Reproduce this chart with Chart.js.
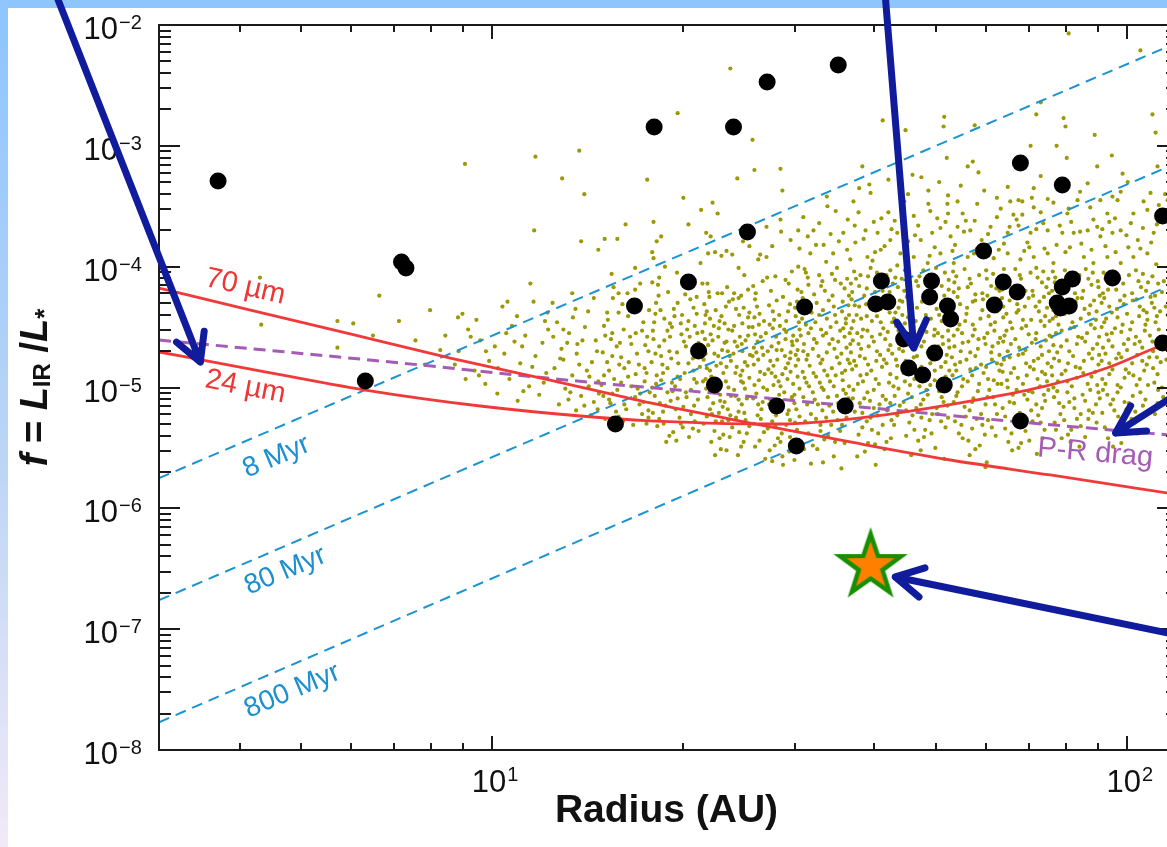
<!DOCTYPE html>
<html>
<head>
<meta charset="utf-8">
<script src="https://cdn.jsdelivr.net/npm/chart.js@4.4.1/dist/chart.umd.min.js"></script>
<style>
  html, body { margin: 0; padding: 0; background: #fff; overflow: hidden; }
  #topbar { position: absolute; left: 0; top: 0; width: 1167px; height: 8px; background: #8dc5fd; }
  #leftbar { position: absolute; left: 0; top: 0; width: 8px; height: 847px;
    background: linear-gradient(to bottom, #8dc5fd 0%, #b7d4f6 50%, #f1e9f7 100%); }
  #wrap { position: absolute; left: 0; top: 0; width: 1190px; height: 847px; }
</style>
</head>
<body>
<div id="topbar"></div>
<div id="leftbar"></div>
<div id="wrap"><canvas id="grafico" width="1190" height="847"></canvas></div>
<script>
// todos los valores en log10: [log10(R en AU), log10(f)]

// modelos de disco (puntitos oliva)
const modeloPts = [
  [0.634,-4.09],[0.822,-4.24],[0.756,-4.45],[0.781,-4.47],[0.636,-4.48],[0.812,-4.57],[0.756,-4.67],[0.853,-4.45],[0.879,-4.61],[0.902,-4.36],[0.918,-4.69],[0.894,-4.81],[0.926,-4.57],
  [1.375,-2.36],[1.292,-2.73],[1.410,-2.95],[0.957,-3.15],[1.068,-3.09],[1.137,-3.04],[1.110,-3.27],[1.145,-3.40],[1.244,-3.28],[1.386,-3.27],[1.413,-3.20],[1.454,-3.19],[1.457,-3.37],[1.301,-3.43],[1.347,-3.47],[1.355,-3.56],[1.329,-3.53],[1.210,-3.65],[1.254,-3.63],[1.309,-3.65],[1.066,-3.70],[1.140,-3.79],[1.177,-3.77],[1.197,-3.77],[1.167,-3.86],[1.266,-3.75],[1.337,-3.72],[1.344,-3.75],[1.482,-3.70],[1.454,-3.61],[1.455,-3.71],[1.441,-3.83],[1.405,-3.83],[1.369,-3.87],[1.361,-3.91],[1.340,-3.89],[1.351,-3.88],[1.378,-3.90],[1.252,-3.88],[1.254,-3.93],[1.188,-4.06],[1.225,-4.01],[1.233,-4.14],[1.252,-4.13],[1.263,-4.09],[1.060,-4.14],[1.126,-4.22],[1.388,-4.01],[1.419,-3.94],[1.422,-3.90],[1.432,-3.92],[1.446,-4.08],[1.433,-4.09],[1.411,-4.16],[1.403,-4.19],[1.462,-4.11],[1.467,-4.14],[1.481,-4.19],[1.484,-3.85],[1.482,-4.00],[1.328,-3.97],[1.304,-4.15],[1.331,-4.14],[1.339,-4.14],[1.355,-4.22],[1.362,-4.22],[1.381,-4.22],[1.388,-4.26],[1.370,-4.17],[1.277,-4.21],[1.304,-4.23],[1.191,-4.17],[1.225,-4.19],[1.213,-4.22],[1.199,-4.22],[1.426,-4.12],
  [1.016,-4.33],[1.024,-4.29],[1.065,-4.29],[1.095,-4.30],[1.087,-4.38],[0.953,-4.39],[0.946,-4.42],[1.151,-4.37],[1.181,-4.38],[1.199,-4.38],
  [1.908,-2.07],[2.021,-2.21],[1.864,-2.64],[1.857,-2.74],[2.040,-2.74],[1.900,-2.77],[1.903,-2.84],[1.712,-2.76],[1.711,-2.84],[1.760,-2.83],[1.615,-2.79],[1.651,-2.87],[2.045,-2.89],[1.949,-2.91],[1.848,-3.00],[1.889,-3.00],[1.716,-3.10],[1.749,-3.17],[1.757,-3.13],[1.766,-3.22],[1.905,-3.10],[1.976,-3.08],[1.993,-3.23],[1.953,-3.17],[1.583,-3.17],[1.594,-3.32],[1.624,-3.28],[1.662,-3.24],[1.676,-3.26],[1.704,-3.30],[1.687,-3.37],[1.775,-3.37],[1.812,-3.34],[1.829,-3.45],[1.853,-3.35],[1.875,-3.44],[1.938,-3.31],[1.958,-3.45],[1.977,-3.42],[2.037,-3.39],[2.026,-3.46],[2.048,-3.17],
  [1.490,-3.59],[1.506,-3.70],[1.528,-3.50],[1.541,-3.54],[1.569,-3.46],[1.577,-3.55],[1.596,-3.39],[1.624,-3.55],[1.638,-3.72],[1.648,-3.67],[1.664,-3.58],[1.687,-3.48],[1.717,-3.48],[1.733,-3.46],[1.701,-3.60],[1.714,-3.63],[1.741,-3.56],[1.764,-3.48],[1.801,-3.52],[1.816,-3.46],[1.821,-3.57],[1.835,-3.46],[1.853,-3.51],[1.864,-3.55],[1.884,-3.47],[1.906,-3.56],[1.922,-3.45],[1.942,-3.51],[1.947,-3.61],[1.969,-3.56],[1.985,-3.45],[2.010,-3.56],[2.032,-3.53],[2.006,-3.64],[1.990,-3.70],[1.977,-3.72],[1.958,-3.75],[1.938,-3.70],[1.916,-3.72],[1.898,-3.72],[1.875,-3.70],[1.848,-3.72],[1.829,-3.66],[1.812,-3.72],[1.785,-3.67],[1.753,-3.70],[1.733,-3.67],[1.722,-3.75],[1.693,-3.72],[1.675,-3.78],[1.627,-3.78],[1.607,-3.72],[1.588,-3.70],[1.553,-3.72],[1.522,-3.82],[1.501,-3.89],[1.537,-3.89],[1.564,-3.94],[1.591,-3.92],[1.612,-3.86],[1.643,-3.89],[1.664,-3.92],[1.686,-3.97],[1.706,-3.89],[1.727,-3.97],[1.749,-3.92],[1.790,-3.93],[1.812,-3.89],[1.832,-3.94],[1.853,-3.92],[1.875,-3.89],[1.884,-3.97],[1.932,-3.92],[1.947,-3.97],[1.969,-3.92],[1.990,-3.97],[2.010,-3.92],[2.032,-3.89],[2.042,-3.72],[2.017,-3.78],
  [1.497,-3.75],[1.515,-3.64],[1.546,-3.79],[1.560,-3.61],[1.572,-3.80],[1.601,-3.63],[1.618,-3.83],[1.634,-3.62],[1.655,-3.79],[1.671,-3.66],[1.697,-3.84],[1.718,-3.56],[1.729,-3.82],[1.746,-3.62],[1.771,-3.78],[1.795,-3.59],[1.806,-3.81],[1.826,-3.61],[1.846,-3.84],[1.868,-3.64],[1.889,-3.82],[1.912,-3.63],[1.928,-3.81],[1.953,-3.67],[1.966,-3.83],[1.981,-3.60],[2.002,-3.84],[2.025,-3.68],[2.038,-3.80],[2.060,-3.61],[2.072,-3.88],[1.527,-3.42],[1.578,-3.35],[1.655,-3.40],[1.738,-3.33],[1.795,-3.43],[1.864,-3.25],[1.926,-3.38],[2.001,-3.30],[2.064,-3.45],
  [1.510,-3.82],[1.533,-3.73],[1.559,-3.86],[1.585,-3.77],[1.603,-3.88],[1.629,-3.69],[1.650,-3.85],[1.666,-3.74],[1.689,-3.91],[1.706,-3.68],[1.725,-3.87],[1.743,-3.71],[1.759,-3.89],[1.781,-3.73],[1.798,-3.86],[1.815,-3.67],[1.838,-3.87],[1.857,-3.69],[1.870,-3.85],[1.894,-3.66],[1.903,-3.88],[1.926,-3.71],[1.944,-3.86],[1.961,-3.69],[1.982,-3.88],[1.999,-3.74],[2.021,-3.85],[2.047,-3.65],[2.067,-3.77],[2.081,-3.94],[1.613,-3.60],[1.690,-3.54],[1.760,-3.62],[1.835,-3.57],[1.908,-3.52],[1.972,-3.63],[2.050,-3.49],[1.571,-3.66],[1.649,-3.46],[1.718,-3.41],[1.850,-3.43],[1.990,-3.38],[1.470,-3.78],[1.432,-3.67],[1.395,-3.79],
  [0.962,-4.52],[0.981,-4.61],[0.947,-4.70],[0.995,-4.78],[1.004,-4.66],[0.972,-4.86],[0.958,-4.93],[0.989,-4.97],[1.008,-5.05],[0.941,-4.81],[0.975,-4.44],
  [1.031,-4.49],[1.052,-4.57],[1.079,-4.63],[1.019,-4.72],[1.044,-4.80],[1.068,-4.74],[1.085,-4.88],[1.027,-4.93],[1.058,-4.99],[1.074,-5.06],[1.040,-5.11],[1.088,-4.52],[1.035,-4.62],
  [0.966,-4.58],[0.990,-4.70],[1.009,-4.84],[0.979,-4.90],[1.022,-4.55],[1.047,-4.66],[1.063,-4.83],[1.081,-4.96],[1.049,-5.03],[1.112,-4.52],[1.134,-4.64],[1.107,-4.76],[1.153,-4.91],[1.123,-5.04],[1.166,-5.18],[1.189,-4.55],[1.217,-4.58],[1.241,-4.65],[1.200,-4.81],[1.226,-4.89],[1.189,-5.05],[1.238,-5.12],[1.206,-5.28],[1.083,-4.45],[1.039,-4.41],
  [1.102,-4.46],[1.121,-4.55],[1.146,-4.50],[1.163,-4.61],[1.109,-4.68],[1.133,-4.72],[1.157,-4.79],[1.098,-4.84],[1.126,-4.90],[1.149,-4.86],[1.167,-4.95],[1.115,-5.01],[1.140,-5.07],[1.160,-5.12],[1.105,-5.14],[1.132,-5.19],[1.155,-5.23],[1.127,-4.42],[1.160,-4.26],
  [1.096,-4.58],[1.118,-4.63],[1.142,-4.61],[1.165,-4.70],[1.112,-4.77],[1.137,-4.81],[1.104,-4.95],[1.152,-4.99],[1.120,-5.10],[1.145,-5.15],[1.168,-5.05],[1.131,-4.35],
  [1.176,-4.49],[1.207,-4.52],[1.238,-4.46],[1.187,-4.60],[1.219,-4.64],[1.244,-4.58],[1.174,-4.71],[1.203,-4.75],[1.231,-4.81],[1.246,-4.70],[1.184,-4.86],[1.214,-4.91],[1.240,-4.95],[1.172,-4.98],[1.197,-5.02],[1.225,-5.08],[1.248,-5.04],[1.186,-5.13],[1.211,-5.18],[1.236,-5.22],[1.178,-5.26],[1.243,-5.30],[1.205,-4.31],[1.229,-4.28],[1.247,-4.36],
  [1.182,-4.44],[1.214,-4.41],[1.236,-4.53],[1.196,-4.66],[1.228,-4.72],[1.181,-4.79],[1.208,-4.84],[1.243,-4.88],[1.192,-4.93],[1.219,-4.99],[1.175,-5.07],[1.232,-5.14],[1.199,-5.24],[1.222,-5.31],[1.246,-5.19],[1.190,-4.26],
  [1.178,-4.57],[1.201,-4.63],[1.226,-4.55],[1.189,-4.74],[1.215,-4.79],[1.240,-4.84],[1.176,-4.90],[1.203,-4.96],[1.229,-5.01],[1.184,-5.10],[1.208,-5.14],[1.233,-5.05],[1.195,-5.20],[1.246,-5.25],
  [1.258,-4.30],[1.286,-4.35],[1.312,-4.27],[1.271,-4.43],[1.297,-4.47],[1.322,-4.39],[1.253,-4.53],[1.280,-4.58],[1.307,-4.52],[1.325,-4.63],[1.263,-4.66],[1.291,-4.71],[1.316,-4.76],[1.251,-4.79],[1.276,-4.84],[1.303,-4.88],[1.327,-4.83],[1.266,-4.94],[1.288,-4.99],[1.313,-5.02],[1.256,-5.07],[1.281,-5.11],[1.301,-5.16],[1.324,-5.10],[1.269,-5.20],[1.295,-5.25],[1.319,-5.28],[1.260,-5.32],[1.285,-5.37],[1.310,-5.41],[1.274,-5.45],[1.299,-4.40],[1.319,-4.49],[1.272,-4.00],[1.291,-4.05],[1.259,-3.79],
  [1.265,-4.36],[1.292,-4.30],[1.317,-4.34],[1.255,-4.46],[1.283,-4.50],[1.309,-4.45],[1.271,-4.61],[1.298,-4.56],[1.320,-4.69],[1.257,-4.72],[1.282,-4.76],[1.309,-4.80],[1.269,-4.88],[1.296,-4.93],[1.322,-4.96],[1.252,-5.00],[1.276,-5.04],[1.306,-5.08],[1.289,-5.18],[1.313,-5.22],[1.263,-5.26],[1.300,-5.33],[1.279,-5.40],[1.325,-5.36],[1.261,-4.15],[1.315,-4.12],
  [1.262,-4.24],[1.287,-4.41],[1.311,-4.58],[1.254,-4.60],[1.279,-4.70],[1.305,-4.66],[1.326,-4.73],[1.268,-4.81],[1.292,-4.91],[1.317,-4.86],[1.258,-4.97],[1.284,-5.03],[1.318,-5.15],[1.273,-5.15],[1.297,-5.30],[1.253,-5.21],[1.322,-4.25],[1.280,-4.47],
  [1.257,-4.39],[1.276,-4.53],[1.302,-4.62],[1.323,-4.55],[1.266,-4.74],[1.293,-4.80],[1.318,-4.93],[1.259,-4.90],[1.283,-4.96],[1.305,-5.04],[1.264,-5.13],[1.292,-5.09],[1.316,-5.34],[1.270,-5.30],[1.290,-5.44],
  [1.334,-4.31],[1.352,-4.36],[1.373,-4.29],[1.396,-4.34],[1.343,-4.43],[1.366,-4.47],[1.389,-4.40],[1.404,-4.50],[1.331,-4.54],[1.356,-4.58],[1.378,-4.53],[1.399,-4.61],[1.340,-4.65],[1.362,-4.69],[1.386,-4.66],[1.406,-4.73],[1.333,-4.77],[1.353,-4.82],[1.376,-4.78],[1.394,-4.86],[1.345,-4.91],[1.368,-4.95],[1.391,-4.90],[1.337,-5.01],[1.359,-5.06],[1.381,-5.02],[1.401,-5.09],[1.348,-5.13],[1.371,-5.18],[1.393,-5.14],[1.338,-5.24],[1.362,-5.28],[1.384,-5.25],[1.405,-5.32],[1.350,-5.36],[1.374,-5.41],[1.396,-5.45],[1.360,-5.51],[1.387,-5.56],[1.342,-4.25],[1.397,-4.07],
  [1.338,-4.37],[1.361,-4.41],[1.384,-4.35],[1.403,-4.42],[1.349,-4.49],[1.372,-4.52],[1.394,-4.47],[1.335,-4.60],[1.366,-4.63],[1.390,-4.58],[1.350,-4.72],[1.374,-4.74],[1.398,-4.79],[1.338,-4.84],[1.364,-4.88],[1.385,-4.83],[1.405,-4.92],[1.332,-4.95],[1.355,-4.99],[1.376,-5.07],[1.398,-5.01],[1.343,-5.18],[1.366,-5.12],[1.388,-5.20],[1.333,-5.30],[1.357,-5.21],[1.378,-5.33],[1.401,-5.38],[1.345,-5.45],[1.369,-5.52],[1.392,-5.49],[1.379,-4.27],
  [1.341,-4.21],[1.368,-4.33],[1.392,-4.24],[1.335,-4.47],[1.357,-4.51],[1.382,-4.62],[1.403,-4.57],[1.347,-4.61],[1.371,-4.70],[1.394,-4.70],[1.336,-4.72],[1.360,-4.80],[1.383,-4.88],[1.402,-4.82],[1.349,-4.97],[1.372,-5.00],[1.395,-4.96],[1.339,-5.08],[1.363,-5.16],[1.388,-5.10],[1.352,-5.28],[1.375,-5.23],[1.399,-5.27],[1.364,-5.39],[1.389,-5.37],[1.351,-5.56],
  [1.336,-4.40],[1.358,-4.45],[1.381,-4.49],[1.405,-4.38],[1.344,-4.56],[1.369,-4.62],[1.393,-4.64],[1.331,-4.68],[1.356,-4.74],[1.380,-4.72],[1.343,-4.86],[1.369,-4.83],[1.392,-4.95],[1.336,-4.93],[1.359,-5.11],[1.383,-5.07],[1.346,-5.22],[1.372,-5.27],[1.397,-5.21],[1.358,-5.42],
  [1.414,-4.27],[1.436,-4.32],[1.458,-4.25],[1.477,-4.34],[1.421,-4.39],[1.444,-4.44],[1.466,-4.37],[1.483,-4.46],[1.410,-4.50],[1.431,-4.55],[1.453,-4.49],[1.474,-4.57],[1.418,-4.62],[1.440,-4.66],[1.462,-4.60],[1.481,-4.69],[1.427,-4.73],[1.449,-4.77],[1.470,-4.71],[1.412,-4.81],[1.435,-4.85],[1.457,-4.89],[1.478,-4.82],[1.420,-4.94],[1.443,-4.98],[1.465,-4.93],[1.484,-5.01],[1.416,-5.05],[1.438,-5.10],[1.460,-5.04],[1.476,-5.13],[1.424,-5.18],[1.447,-5.23],[1.469,-5.27],[1.412,-5.30],[1.434,-5.34],[1.456,-5.38],[1.480,-5.35],[1.421,-5.44],[1.445,-5.48],[1.468,-5.53],[1.430,-5.59],[1.458,-5.64],[1.439,-4.20],[1.472,-4.04],
  [1.417,-4.33],[1.448,-4.28],[1.469,-4.31],[1.428,-4.45],[1.452,-4.40],[1.478,-4.41],[1.414,-4.56],[1.442,-4.51],[1.463,-4.54],[1.484,-4.52],[1.425,-4.67],[1.451,-4.63],[1.473,-4.65],[1.410,-4.74],[1.438,-4.78],[1.461,-4.74],[1.482,-4.77],[1.422,-4.87],[1.446,-4.91],[1.470,-4.87],[1.413,-4.98],[1.433,-5.02],[1.454,-4.99],[1.476,-5.06],[1.426,-5.12],[1.449,-5.16],[1.467,-5.19],[1.418,-5.23],[1.441,-5.28],[1.463,-5.31],[1.484,-5.24],[1.428,-5.37],[1.450,-5.42],[1.475,-5.45],[1.437,-5.52],[1.457,-5.57],
  [1.415,-4.22],[1.442,-4.37],[1.463,-4.45],[1.480,-4.29],[1.420,-4.48],[1.447,-4.58],[1.472,-4.62],[1.412,-4.67],[1.434,-4.70],[1.456,-4.69],[1.478,-4.73],[1.419,-4.77],[1.443,-4.82],[1.466,-4.80],[1.429,-4.89],[1.451,-4.95],[1.474,-4.97],[1.411,-5.09],[1.436,-5.14],[1.457,-5.11],[1.479,-5.18],[1.423,-5.26],[1.446,-5.32],[1.469,-5.41],[1.414,-5.49],[1.441,-5.61],[1.476,-5.60],
  [1.413,-4.42],[1.437,-4.48],[1.460,-4.52],[1.480,-4.61],[1.423,-4.58],[1.448,-4.69],[1.469,-4.76],[1.416,-4.71],[1.440,-4.88],[1.462,-4.84],[1.481,-4.91],[1.427,-5.00],[1.452,-5.06],[1.472,-5.08],[1.419,-5.14],[1.442,-5.20],[1.465,-5.22],[1.431,-5.31],[1.454,-5.45],[1.477,-5.29],
  [1.492,-4.02],[1.515,-4.07],[1.543,-4.01],[1.559,-4.10],[1.498,-4.15],[1.524,-4.20],[1.549,-4.14],[1.489,-4.26],[1.511,-4.30],[1.536,-4.24],[1.561,-4.32],[1.503,-4.38],[1.527,-4.43],[1.551,-4.37],[1.494,-4.48],[1.518,-4.52],[1.542,-4.46],[1.563,-4.55],[1.507,-4.60],[1.531,-4.64],[1.555,-4.58],[1.490,-4.70],[1.514,-4.74],[1.539,-4.68],[1.560,-4.77],[1.500,-4.82],[1.523,-4.86],[1.547,-4.80],[1.492,-4.92],[1.516,-4.96],[1.541,-4.90],[1.562,-4.99],[1.505,-5.04],[1.529,-5.08],[1.553,-5.02],[1.496,-5.14],[1.520,-5.19],[1.545,-5.13],[1.510,-5.26],[1.534,-5.31],[1.558,-5.25],[1.498,-5.38],[1.523,-5.43],[1.548,-5.36],[1.512,-5.51],[1.538,-5.57],[1.502,-5.63],[1.550,-5.67],[1.526,-3.96],[1.557,-4.43],
  [1.497,-4.09],[1.520,-4.12],[1.535,-4.06],[1.555,-4.18],[1.487,-4.21],[1.507,-4.23],[1.530,-4.28],[1.552,-4.29],[1.499,-4.33],[1.521,-4.36],[1.540,-4.40],[1.562,-4.40],[1.488,-4.43],[1.509,-4.46],[1.533,-4.50],[1.553,-4.51],[1.498,-4.55],[1.521,-4.57],[1.545,-4.62],[1.564,-4.64],[1.491,-4.64],[1.505,-4.68],[1.527,-4.71],[1.550,-4.72],[1.495,-4.77],[1.517,-4.80],[1.535,-4.84],[1.556,-4.86],[1.489,-4.87],[1.510,-4.91],[1.532,-4.95],[1.552,-4.94],[1.499,-4.99],[1.522,-5.02],[1.543,-5.07],[1.561,-5.09],[1.490,-5.08],[1.513,-5.14],[1.537,-5.20],[1.502,-5.22],[1.526,-5.25],[1.551,-5.31],[1.517,-5.36],[1.540,-5.45],[1.505,-5.48],
  [1.494,-4.05],[1.518,-4.16],[1.540,-4.11],[1.562,-4.24],[1.493,-4.34],[1.515,-4.40],[1.538,-4.33],[1.557,-4.47],[1.502,-4.51],[1.526,-4.55],[1.548,-4.53],[1.486,-4.57],[1.511,-4.63],[1.536,-4.60],[1.558,-4.67],[1.497,-4.73],[1.520,-4.77],[1.543,-4.75],[1.563,-4.80],[1.506,-4.88],[1.528,-4.90],[1.551,-4.88],[1.495,-4.96],[1.519,-5.00],[1.538,-4.99],[1.557,-5.05],[1.508,-5.10],[1.531,-5.15],[1.555,-5.19],[1.493,-5.28],[1.517,-5.31],[1.544,-5.27],[1.529,-5.40],[1.555,-5.46],[1.491,-5.51],[1.521,-5.62],
  [1.570,-4.04],[1.596,-4.01],[1.621,-4.07],[1.638,-3.99],[1.578,-4.16],[1.603,-4.21],[1.631,-4.14],[1.566,-4.27],[1.589,-4.31],[1.617,-4.25],[1.640,-4.34],[1.574,-4.40],[1.598,-4.45],[1.626,-4.38],[1.584,-4.52],[1.611,-4.56],[1.636,-4.49],[1.568,-4.61],[1.593,-4.66],[1.619,-4.60],[1.641,-4.68],[1.579,-4.74],[1.605,-4.78],[1.630,-4.72],[1.567,-4.85],[1.590,-4.89],[1.614,-4.83],[1.637,-4.92],[1.576,-4.97],[1.601,-5.02],[1.625,-4.96],[1.586,-5.09],[1.610,-5.14],[1.634,-5.07],[1.571,-5.20],[1.596,-5.25],[1.622,-5.19],[1.583,-5.33],[1.608,-5.38],[1.633,-5.31],[1.592,-5.46],[1.618,-5.51],[1.575,-5.57],[1.604,-5.64],[1.628,-5.42],[1.599,-3.95],[1.582,-4.58],
  [1.573,-4.10],[1.592,-4.08],[1.612,-4.12],[1.635,-4.09],[1.567,-4.21],[1.586,-4.24],[1.609,-4.17],[1.626,-4.21],[1.578,-4.33],[1.603,-4.36],[1.622,-4.31],[1.642,-4.28],[1.569,-4.45],[1.590,-4.41],[1.612,-4.46],[1.633,-4.43],[1.575,-4.55],[1.598,-4.58],[1.623,-4.54],[1.643,-4.57],[1.581,-4.68],[1.606,-4.70],[1.627,-4.65],[1.570,-4.78],[1.592,-4.81],[1.617,-4.77],[1.638,-4.82],[1.580,-4.90],[1.604,-4.93],[1.627,-4.89],[1.569,-5.02],[1.591,-5.04],[1.615,-5.07],[1.640,-5.01],[1.579,-5.13],[1.601,-5.17],[1.627,-5.13],[1.590,-5.28],[1.615,-5.31],[1.577,-5.39],[1.638,-5.23],[1.603,-5.47],
  [1.580,-4.07],[1.606,-4.05],[1.627,-4.03],[1.565,-4.14],[1.590,-4.18],[1.615,-4.20],[1.639,-4.17],[1.571,-4.32],[1.597,-4.28],[1.612,-4.35],[1.635,-4.38],[1.581,-4.43],[1.606,-4.41],[1.630,-4.46],[1.566,-4.51],[1.591,-4.53],[1.616,-4.51],[1.640,-4.53],[1.577,-4.64],[1.601,-4.62],[1.624,-4.69],[1.565,-4.71],[1.587,-4.76],[1.611,-4.73],[1.636,-4.77],[1.573,-4.82],[1.597,-4.86],[1.621,-4.80],[1.584,-4.95],[1.609,-4.97],[1.632,-4.99],[1.568,-5.09],[1.595,-5.11],[1.620,-5.10],[1.642,-5.15],[1.583,-5.21],[1.607,-5.23],[1.629,-5.27],[1.598,-5.35],[1.621,-5.45],[1.587,-5.53],
  [1.650,-4.03],[1.673,-4.08],[1.699,-4.01],[1.719,-4.11],[1.658,-4.18],[1.683,-4.23],[1.708,-4.16],[1.646,-4.29],[1.669,-4.34],[1.694,-4.27],[1.716,-4.37],[1.655,-4.42],[1.680,-4.47],[1.704,-4.40],[1.648,-4.54],[1.672,-4.59],[1.697,-4.52],[1.719,-4.61],[1.661,-4.66],[1.686,-4.71],[1.710,-4.64],[1.651,-4.78],[1.676,-4.83],[1.701,-4.76],[1.720,-4.86],[1.665,-4.93],[1.690,-4.98],[1.714,-4.91],[1.655,-5.05],[1.679,-5.10],[1.704,-5.03],[1.668,-5.17],[1.693,-5.22],[1.717,-5.15],[1.657,-5.29],[1.682,-5.35],[1.707,-5.28],[1.671,-5.44],[1.698,-5.50],[1.660,-5.56],[1.712,-5.59],[1.688,-4.12],[1.702,-4.55],
  [1.655,-4.08],[1.679,-4.03],[1.692,-4.09],[1.713,-4.05],[1.649,-4.20],[1.671,-4.16],[1.696,-4.21],[1.719,-4.19],[1.661,-4.31],[1.684,-4.28],[1.708,-4.32],[1.646,-4.40],[1.667,-4.45],[1.691,-4.43],[1.713,-4.46],[1.659,-4.57],[1.684,-4.54],[1.709,-4.58],[1.652,-4.63],[1.676,-4.66],[1.699,-4.69],[1.720,-4.67],[1.664,-4.75],[1.690,-4.80],[1.714,-4.79],[1.648,-4.88],[1.672,-4.90],[1.697,-4.86],[1.720,-4.94],[1.658,-4.98],[1.684,-5.02],[1.708,-5.08],[1.648,-5.12],[1.675,-5.14],[1.700,-5.17],[1.662,-5.23],[1.689,-5.27],[1.714,-5.33],[1.680,-5.41],[1.652,-5.40],
  [1.645,-4.10],[1.668,-4.12],[1.691,-4.15],[1.712,-4.24],[1.653,-4.25],[1.677,-4.29],[1.700,-4.35],[1.720,-4.32],[1.660,-4.36],[1.683,-4.40],[1.708,-4.45],[1.650,-4.47],[1.674,-4.52],[1.696,-4.57],[1.718,-4.53],[1.656,-4.59],[1.680,-4.62],[1.703,-4.66],[1.647,-4.70],[1.669,-4.74],[1.693,-4.77],[1.716,-4.73],[1.658,-4.82],[1.683,-4.87],[1.707,-4.83],[1.650,-4.95],[1.673,-4.99],[1.697,-4.94],[1.719,-5.01],[1.661,-5.08],[1.686,-5.06],[1.711,-5.12],[1.652,-5.19],[1.676,-5.25],[1.702,-5.22],[1.665,-5.35],[1.692,-5.38],[1.718,-5.25],[1.675,-5.52],
  [1.726,-4.04],[1.752,-4.10],[1.778,-4.03],[1.797,-4.12],[1.735,-4.18],[1.761,-4.23],[1.786,-4.16],[1.724,-4.29],[1.748,-4.34],[1.773,-4.27],[1.795,-4.37],[1.731,-4.43],[1.757,-4.48],[1.782,-4.41],[1.740,-4.55],[1.766,-4.60],[1.791,-4.53],[1.728,-4.66],[1.753,-4.71],[1.777,-4.64],[1.799,-4.73],[1.737,-4.79],[1.762,-4.84],[1.787,-4.77],[1.725,-4.90],[1.749,-4.95],[1.774,-4.88],[1.796,-4.97],[1.733,-5.04],[1.758,-5.09],[1.783,-5.02],[1.744,-5.16],[1.770,-5.22],[1.792,-5.14],[1.729,-5.28],[1.756,-5.34],[1.781,-5.27],[1.741,-5.42],[1.768,-5.48],[1.793,-5.40],[1.752,-5.56],[1.779,-5.62],[1.764,-3.85],
  [1.731,-4.08],[1.744,-4.02],[1.767,-4.07],[1.789,-4.06],[1.727,-4.21],[1.749,-4.17],[1.772,-4.22],[1.794,-4.18],[1.737,-4.31],[1.761,-4.28],[1.785,-4.32],[1.726,-4.41],[1.745,-4.45],[1.769,-4.43],[1.792,-4.46],[1.733,-4.52],[1.757,-4.57],[1.780,-4.55],[1.800,-4.59],[1.741,-4.63],[1.765,-4.68],[1.788,-4.66],[1.724,-4.75],[1.747,-4.77],[1.770,-4.81],[1.795,-4.80],[1.731,-4.86],[1.756,-4.90],[1.781,-4.93],[1.740,-4.99],[1.765,-5.03],[1.789,-5.08],[1.727,-5.12],[1.752,-5.19],[1.777,-5.14],[1.739,-5.31],[1.763,-5.26],[1.787,-5.33],[1.750,-5.44],[1.776,-5.39],
  [1.728,-4.13],[1.754,-4.14],[1.779,-4.10],[1.799,-4.20],[1.733,-4.25],[1.757,-4.29],[1.780,-4.24],[1.723,-4.35],[1.747,-4.39],[1.772,-4.36],[1.797,-4.30],[1.736,-4.48],[1.760,-4.52],[1.785,-4.48],[1.727,-4.57],[1.750,-4.62],[1.775,-4.59],[1.797,-4.63],[1.738,-4.70],[1.761,-4.74],[1.786,-4.71],[1.729,-4.81],[1.753,-4.85],[1.778,-4.83],[1.799,-4.86],[1.742,-4.93],[1.767,-4.97],[1.790,-4.94],[1.731,-5.07],[1.756,-5.12],[1.780,-5.08],[1.746,-5.24],[1.772,-5.31],[1.795,-5.22],[1.735,-5.38],[1.761,-5.51],
  [1.806,-4.02],[1.831,-4.07],[1.857,-4.01],[1.876,-4.10],[1.814,-4.15],[1.840,-4.20],[1.866,-4.13],[1.803,-4.26],[1.827,-4.31],[1.852,-4.24],[1.874,-4.34],[1.810,-4.39],[1.836,-4.44],[1.861,-4.37],[1.819,-4.51],[1.845,-4.56],[1.870,-4.49],[1.805,-4.62],[1.830,-4.67],[1.856,-4.60],[1.877,-4.70],[1.815,-4.75],[1.841,-4.80],[1.866,-4.73],[1.804,-4.87],[1.828,-4.92],[1.853,-4.85],[1.874,-4.95],[1.812,-5.00],[1.838,-5.06],[1.863,-4.99],[1.822,-5.13],[1.849,-5.19],[1.871,-5.11],[1.808,-5.24],[1.835,-5.31],[1.860,-5.23],[1.818,-5.38],[1.846,-5.44],[1.870,-5.35],[1.829,-5.50],[1.858,-5.55],[1.843,-3.80],
  [1.810,-4.08],[1.824,-4.02],[1.848,-4.05],[1.868,-4.04],[1.803,-4.19],[1.827,-4.16],[1.851,-4.20],[1.873,-4.17],[1.815,-4.28],[1.839,-4.33],[1.862,-4.29],[1.805,-4.42],[1.826,-4.38],[1.849,-4.44],[1.871,-4.41],[1.810,-4.53],[1.834,-4.51],[1.857,-4.55],[1.878,-4.57],[1.817,-4.64],[1.840,-4.69],[1.864,-4.66],[1.806,-4.77],[1.829,-4.73],[1.853,-4.78],[1.875,-4.80],[1.817,-4.88],[1.842,-4.90],[1.866,-4.87],[1.802,-4.97],[1.826,-5.02],[1.851,-5.04],[1.876,-5.02],[1.815,-5.12],[1.843,-5.10],[1.866,-5.17],[1.826,-5.25],[1.851,-5.28],[1.808,-5.34],[1.867,-5.42],[1.833,-5.46],
  [1.808,-4.12],[1.833,-4.10],[1.859,-4.09],[1.877,-4.22],[1.818,-4.23],[1.845,-4.26],[1.869,-4.25],[1.805,-4.33],[1.829,-4.36],[1.856,-4.33],[1.878,-4.45],[1.816,-4.46],[1.841,-4.49],[1.864,-4.45],[1.807,-4.57],[1.824,-4.60],[1.850,-4.63],[1.872,-4.61],[1.812,-4.70],[1.836,-4.72],[1.860,-4.76],[1.802,-4.81],[1.822,-4.84],[1.847,-4.83],[1.871,-4.89],[1.811,-4.94],[1.836,-4.97],[1.859,-4.93],[1.820,-5.06],[1.845,-5.03],[1.869,-5.06],[1.804,-5.17],[1.831,-5.21],[1.857,-5.14],[1.840,-5.36],[1.864,-5.29],[1.813,-5.45],
  [1.883,-4.04],[1.909,-4.09],[1.935,-4.02],[1.954,-4.12],[1.891,-4.17],[1.918,-4.22],[1.944,-4.15],[1.881,-4.28],[1.905,-4.34],[1.929,-4.26],[1.952,-4.37],[1.888,-4.41],[1.914,-4.46],[1.940,-4.39],[1.897,-4.53],[1.923,-4.58],[1.949,-4.51],[1.884,-4.65],[1.909,-4.70],[1.934,-4.62],[1.956,-4.73],[1.893,-4.78],[1.919,-4.83],[1.945,-4.76],[1.882,-4.90],[1.906,-4.95],[1.931,-4.88],[1.953,-4.98],[1.890,-5.03],[1.917,-5.09],[1.942,-5.02],[1.900,-5.16],[1.927,-5.22],[1.951,-5.14],[1.886,-5.29],[1.912,-5.35],[1.939,-5.26],[1.897,-5.42],[1.925,-5.49],[1.910,-3.84],
  [1.887,-4.09],[1.902,-4.03],[1.925,-4.07],[1.946,-4.05],[1.882,-4.20],[1.904,-4.17],[1.931,-4.20],[1.955,-4.17],[1.893,-4.30],[1.919,-4.29],[1.942,-4.32],[1.883,-4.43],[1.902,-4.39],[1.927,-4.43],[1.951,-4.44],[1.888,-4.55],[1.911,-4.51],[1.937,-4.55],[1.956,-4.58],[1.896,-4.66],[1.921,-4.64],[1.946,-4.68],[1.885,-4.76],[1.907,-4.80],[1.932,-4.78],[1.955,-4.81],[1.897,-4.89],[1.921,-4.92],[1.944,-4.91],[1.884,-5.00],[1.906,-5.04],[1.930,-5.06],[1.955,-5.04],[1.893,-5.13],[1.917,-5.17],[1.940,-5.19],[1.901,-5.27],[1.927,-5.32],[1.952,-5.29],[1.911,-5.45],
  [1.886,-4.13],[1.911,-4.14],[1.939,-4.10],[1.957,-4.24],[1.895,-4.25],[1.922,-4.26],[1.948,-4.28],[1.884,-4.36],[1.908,-4.38],[1.933,-4.35],[1.892,-4.48],[1.917,-4.50],[1.943,-4.48],[1.881,-4.58],[1.905,-4.61],[1.929,-4.59],[1.953,-4.64],[1.890,-4.71],[1.915,-4.74],[1.940,-4.72],[1.881,-4.83],[1.903,-4.86],[1.926,-4.84],[1.950,-4.87],[1.891,-4.95],[1.913,-4.99],[1.938,-4.97],[1.885,-5.08],[1.909,-5.12],[1.934,-5.11],[1.957,-5.09],[1.895,-5.22],[1.921,-5.26],[1.946,-5.21],[1.907,-5.39],[1.934,-5.41],[1.888,-5.35],
  [1.963,-4.05],[1.988,-4.10],[2.014,-4.03],[2.033,-4.13],[1.970,-4.19],[1.996,-4.24],[2.022,-4.17],[1.960,-4.30],[1.984,-4.35],[2.009,-4.28],[2.031,-4.38],[1.967,-4.43],[1.993,-4.48],[2.019,-4.41],[1.976,-4.55],[2.002,-4.60],[2.028,-4.53],[1.962,-4.67],[1.987,-4.72],[2.012,-4.64],[2.035,-4.75],[1.972,-4.80],[1.998,-4.85],[2.024,-4.78],[1.961,-4.93],[1.985,-4.98],[2.010,-4.90],[1.969,-5.06],[1.996,-5.12],[2.021,-5.04],[1.980,-5.19],[2.007,-5.26],[1.965,-5.33],[2.016,-5.38],[1.991,-5.46],
  [1.966,-4.10],[1.978,-4.04],[2.003,-4.07],[2.025,-4.06],[1.962,-4.22],[1.983,-4.19],[2.008,-4.22],[2.030,-4.20],[1.972,-4.33],[1.995,-4.31],[2.020,-4.33],[1.964,-4.46],[1.985,-4.42],[2.008,-4.46],[2.032,-4.44],[1.968,-4.56],[1.991,-4.54],[2.014,-4.58],[2.036,-4.57],[1.977,-4.66],[2.000,-4.69],[2.024,-4.67],[1.960,-4.78],[1.983,-4.76],[2.008,-4.80],[2.031,-4.81],[1.972,-4.89],[1.996,-4.92],[2.020,-4.93],[1.962,-5.02],[1.985,-5.04],[2.009,-5.07],[2.033,-4.98],[1.974,-5.14],[1.999,-5.18],[2.025,-5.15],[1.988,-5.30],[2.012,-5.29],[1.970,-5.42],
  [1.971,-4.13],[1.994,-4.14],[2.018,-4.12],[2.037,-4.25],[1.964,-4.26],[1.989,-4.28],[2.015,-4.27],[1.976,-4.38],[2.000,-4.39],[2.026,-4.36],[1.960,-4.50],[1.981,-4.51],[2.005,-4.52],[2.029,-4.48],[1.971,-4.61],[1.995,-4.64],[2.020,-4.62],[1.966,-4.72],[1.991,-4.75],[2.016,-4.73],[1.977,-4.85],[2.003,-4.88],[2.027,-4.86],[1.966,-4.97],[1.990,-5.00],[2.015,-4.98],[1.978,-5.10],[2.003,-5.13],[2.029,-5.10],[1.961,-5.21],[1.986,-5.24],[2.013,-5.20],[1.995,-5.36],[1.978,-5.49],
  [2.046,-3.98],[2.068,-4.06],[2.055,-4.21],[2.079,-4.15],[2.043,-4.34],[2.064,-4.40],[2.050,-4.52],[2.075,-4.58],[2.041,-4.70],[2.062,-4.77],[2.048,-4.89],[2.070,-4.96],[2.057,-5.08],[2.044,-5.22],[2.066,-5.30],[2.052,-3.55],[2.071,-3.66],[2.060,-3.40],
  [2.040,-4.08],[2.058,-4.12],[2.075,-4.03],[2.044,-4.24],[2.069,-4.28],[2.052,-4.37],[2.080,-4.45],[2.045,-4.46],[2.061,-4.58],[2.040,-4.62],[2.070,-4.67],[2.053,-4.79],[2.078,-4.85],[2.043,-4.96],[2.063,-5.12],[2.049,-5.02],[2.074,-5.20],
  [2.049,-4.14],[2.072,-4.18],[2.039,-4.30],[2.061,-4.33],[2.083,-4.35],[2.047,-4.41],[2.070,-4.50],[2.056,-4.63],[2.080,-4.70],[2.047,-4.75],[2.066,-4.86],[2.041,-4.84],[2.076,-4.93],[2.055,-5.00],[2.072,-5.09],[2.048,-5.13],
  [1.819,-5.52],[1.777,-5.66]
];

// discos observados (puntos negros)
const discosPts = [
  [0.568,-3.291],[0.857,-3.961],[0.864,-4.011],[0.800,-4.946],[1.194,-5.302],[1.255,-2.844],[1.380,-2.844],[1.433,-2.472],[1.545,-2.331],
  [1.402,-3.713],[1.224,-4.326],[1.309,-4.127],[1.492,-4.334],[1.325,-4.698],[1.350,-4.979],[1.448,-5.153],[1.479,-5.484],[1.556,-5.153],
  [1.774,-3.870],[1.613,-4.119],[1.604,-4.309],[1.623,-4.292],[1.692,-4.119],[1.689,-4.251],[1.717,-4.326],[1.722,-4.433],[1.648,-4.599],
  [1.697,-4.715],[1.656,-4.839],[1.678,-4.897],[1.712,-4.979],[1.805,-4.127],[1.827,-4.210],[1.791,-4.317],[1.914,-4.102],[1.898,-4.168],
  [1.890,-4.301],[1.895,-4.342],[1.909,-4.326],[1.977,-4.094],[2.056,-4.632],[1.832,-3.142],[1.898,-3.324],[2.056,-3.581],[1.832,-5.277]
];

// estrella
const estrellaPt = [1.596, -6.478];

// curvas de sensibilidad
const curva70 = [[0.475,-4.177],[0.619,-4.359],[0.776,-4.557],[0.934,-4.756],[1.091,-4.938],[1.249,-5.128],[1.407,-5.294],[1.564,-5.451],[1.722,-5.600],[1.879,-5.724],[2.084,-5.890]];
const curva24 = [[0.475,-4.706],[0.619,-4.847],[0.800,-5.021],[0.981,-5.153],[1.139,-5.236],[1.249,-5.277],[1.339,-5.294],[1.454,-5.302],[1.580,-5.252],[1.764,-5.103],[1.879,-4.979],[1.968,-4.839],[2.048,-4.665],[2.084,-4.599]];
const curvaPR = [[0.475,-4.607],[0.855,-4.797],[1.150,-4.955],[1.348,-5.046],[1.580,-5.161],[1.832,-5.286],[2.084,-5.401]];
const linea8 = [[0.475,-5.75],[2.084,-2.135]];
const linea80 = [[0.475,-6.76],[2.084,-3.13]];
const linea800 = [[0.475,-7.77],[2.084,-4.12]];

// ejes
const xMajor = [10, 100];
const xMinor = [4, 5, 6, 7, 8, 9, 20, 30, 40, 50, 60, 70, 80, 90];
const yExps = [-8, -7, -6, -5, -4, -3, -2];
const xExps = [1, 2];

// etiquetas y flechas (posiciones en log10)
const etiquetas = [
  { texto: '70 µm', en: [0.611, -4.168], rot: 13, color: '#ee3636', tam: 29 },
  { texto: '24 µm', en: [0.611, -4.996], rot: 11, color: '#ee3636', tam: 29 },
  { texto: '8 Myr', en: [0.660, -5.575], rot: -23, color: '#1b8fcf', tam: 28 },
  { texto: '80 Myr', en: [0.674, -6.519], rot: -23, color: '#1b8fcf', tam: 28 },
  { texto: '800 Myr', en: [0.685, -7.512], rot: -23, color: '#1b8fcf', tam: 28 },
  { texto: 'P-R drag', en: [1.950, -5.545], rot: 5, color: '#a55cb5', tam: 29 }
];
const flechas = [
  { desde: [0.313, -1.752], hasta: [0.540, -4.789] },
  { desde: [1.619, -1.752], hasta: [1.664, -4.673] },
  { desde: [2.092, -5.009], hasta: [1.982, -5.377] },
  { desde: [2.092, -7.062], hasta: [1.635, -6.568] }
];

const aXY = p => ({ x: Math.pow(10, p[0]), y: Math.pow(10, p[1]) });
const FUENTE = '"Liberation Sans", Arial, Helvetica, sans-serif';

// estrella naranja con borde verde
const estrella = document.createElement('canvas');
estrella.width = 90; estrella.height = 90;
(function () {
  const c = estrella.getContext('2d');
  c.beginPath();
  for (let i = 0; i < 10; i++) {
    const r = i % 2 === 0 ? 32 : 12.5;
    const a = -Math.PI / 2 + i * Math.PI / 5;
    const px = 45 + r * Math.cos(a), py = 45 + r * Math.sin(a);
    if (i === 0) c.moveTo(px, py); else c.lineTo(px, py);
  }
  c.closePath();
  c.fillStyle = '#ff8000';
  c.fill();
  c.lineWidth = 4.5;
  c.lineJoin = 'miter';
  c.strokeStyle = '#168f00';
  c.stroke();
})();

const ejes = {
  id: 'ejes',
  afterDatasetsDraw(chart) {
    const { ctx, chartArea: a } = chart;
    const sx = chart.scales.x, sy = chart.scales.y;
    ctx.save();

    // marco
    ctx.strokeStyle = '#1a1a1a';
    ctx.lineWidth = 2;
    ctx.strokeRect(a.left, a.top, a.right - a.left, a.bottom - a.top);

    // marcas
    ctx.beginPath();
    const marcaX = (v, l) => {
      const px = Math.round(sx.getPixelForValue(v));
      ctx.moveTo(px, a.bottom); ctx.lineTo(px, a.bottom - l);
      ctx.moveTo(px, a.top); ctx.lineTo(px, a.top + l);
    };
    const marcaY = (v, l) => {
      const py = Math.round(sy.getPixelForValue(v));
      ctx.moveTo(a.left, py); ctx.lineTo(a.left + l, py);
      ctx.moveTo(a.right, py); ctx.lineTo(a.right - l, py);
    };
    xMinor.forEach(v => marcaX(v, 7));
    xMajor.forEach(v => marcaX(v, 14));
    yExps.forEach(e => {
      marcaY(Math.pow(10, e), 21);
      if (e < -2) for (let m = 2; m <= 9; m++) marcaY(m * Math.pow(10, e), 12);
    });
    ctx.stroke();

    // etiquetas de los ejes
    ctx.fillStyle = '#111';
    ctx.textBaseline = 'alphabetic';
    yExps.forEach(e => {
      const py = sy.getPixelForValue(Math.pow(10, e));
      ctx.font = '31px ' + FUENTE;
      ctx.textAlign = 'right';
      ctx.fillText('10', a.left - 41, py + 14);
      ctx.font = '20px ' + FUENTE;
      ctx.textAlign = 'left';
      ctx.fillText('\u2212' + Math.abs(e), a.left - 40, py + 4);
    });
    xExps.forEach(e => {
      const px = sx.getPixelForValue(Math.pow(10, e));
      ctx.font = '31px ' + FUENTE;
      ctx.textAlign = 'right';
      ctx.fillText('10', px + 14, a.bottom + 42);
      ctx.font = '20px ' + FUENTE;
      ctx.textAlign = 'left';
      ctx.fillText(String(e), px + 15, a.bottom + 31);
    });

    // titulo eje x
    ctx.font = 'bold 39px ' + FUENTE;
    ctx.textAlign = 'center';
    ctx.fillText('Radius (AU)', (a.left + a.right) / 2 - 2, a.bottom + 72);

    // titulo eje y
    ctx.save();
    ctx.translate(47, (a.top + a.bottom) / 2);
    ctx.rotate(-Math.PI / 2);
    const partes = [
      { t: 'f', f: 'italic bold 38px ', dy: 0 },
      { t: ' = ', f: 'bold 38px ', dy: 0 },
      { t: 'L', f: 'italic bold 38px ', dy: 0 },
      { t: 'IR', f: 'bold 24px ', dy: 3 },
      { t: ' /', f: 'bold 38px ', dy: 0 },
      { t: 'L', f: 'italic bold 38px ', dy: 0 },
      { t: '*', f: 'bold 26px ', dy: 6 }
    ];
    let total = 0;
    partes.forEach(p => { ctx.font = p.f + FUENTE; p.w = ctx.measureText(p.t).width; total += p.w; });
    let cx = -total / 2;
    ctx.textAlign = 'left';
    partes.forEach(p => { ctx.font = p.f + FUENTE; ctx.fillText(p.t, cx, p.dy); cx += p.w; });
    ctx.restore();

    // etiquetas de las curvas
    etiquetas.forEach(l => {
      const px = sx.getPixelForValue(Math.pow(10, l.en[0]));
      const py = sy.getPixelForValue(Math.pow(10, l.en[1]));
      ctx.save();
      ctx.translate(px, py);
      ctx.rotate(l.rot * Math.PI / 180);
      ctx.font = l.tam + 'px ' + FUENTE;
      ctx.fillStyle = l.color;
      ctx.textAlign = 'center';
      ctx.textBaseline = 'middle';
      ctx.fillText(l.texto, 0, 0);
      ctx.restore();
    });

    // flechas
    ctx.strokeStyle = '#101c9c';
    ctx.lineWidth = 7;
    ctx.lineCap = 'round';
    ctx.lineJoin = 'round';
    flechas.forEach(f => {
      const x0 = sx.getPixelForValue(Math.pow(10, f.desde[0]));
      const y0 = sy.getPixelForValue(Math.pow(10, f.desde[1]));
      const x1 = sx.getPixelForValue(Math.pow(10, f.hasta[0]));
      const y1 = sy.getPixelForValue(Math.pow(10, f.hasta[1]));
      const ang = Math.atan2(y0 - y1, x0 - x1);
      ctx.beginPath();
      ctx.moveTo(x0, y0); ctx.lineTo(x1, y1);
      [-1, 1].forEach(s => {
        ctx.moveTo(x1, y1);
        ctx.lineTo(x1 + 31 * Math.cos(ang + s * 0.5), y1 + 31 * Math.sin(ang + s * 0.5));
      });
      ctx.stroke();
    });

    ctx.restore();
  }
};

const linea = (datos, color, ancho, guion, curva) => ({
  data: datos.map(aXY),
  showLine: true,
  borderColor: color,
  borderWidth: ancho,
  borderDash: guion,
  pointRadius: 0,
  cubicInterpolationMode: curva ? 'monotone' : 'default',
  order: 5
});

new Chart(document.getElementById('grafico'), {
  type: 'scatter',
  data: {
    datasets: [
      { data: modeloPts.map(aXY), pointRadius: 2.1, backgroundColor: '#9c9806', borderWidth: 0, order: 9 },
      linea(curva70, '#f03a3a', 2.8, [], true),
      linea(curva24, '#f03a3a', 2.8, [], true),
      linea(curvaPR, '#a65bb5', 3, [12, 7], true),
      linea(linea8, '#1b93d1', 2, [11, 7], false),
      linea(linea80, '#1b93d1', 2, [11, 7], false),
      linea(linea800, '#1b93d1', 2, [11, 7], false),
      { data: discosPts.map(aXY), pointRadius: 8.5, backgroundColor: '#000', borderWidth: 0, order: 2 },
      { data: [aXY(estrellaPt)], pointStyle: estrella, pointRadius: 40, order: 1 }
    ]
  },
  options: {
    responsive: false,
    animation: false,
    events: [],
    layout: { autoPadding: false, padding: { left: 159, top: 25, right: 12, bottom: 97 } },
    plugins: { legend: { display: false }, tooltip: { enabled: false } },
    scales: {
      x: { type: 'logarithmic', min: 2.985, max: 120.3, bounds: 'data', display: false },
      y: { type: 'logarithmic', min: 1e-8, max: 1e-2, bounds: 'data', display: false }
    }
  },
  plugins: [ejes]
});
</script>
</body>
</html>
